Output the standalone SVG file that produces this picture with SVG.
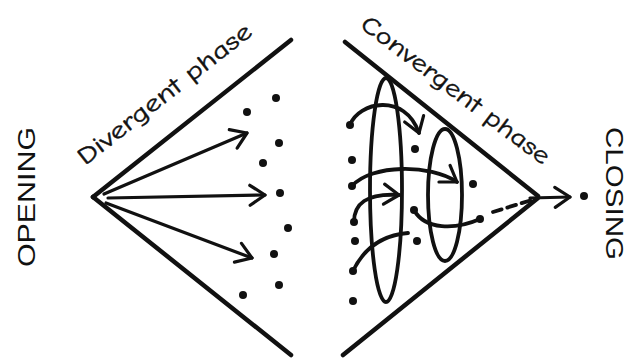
<svg xmlns="http://www.w3.org/2000/svg" width="629" height="358" viewBox="0 0 629 358">
  <defs>
    <style>
      .ln { stroke: #111; stroke-width: 4.5; stroke-linecap: round; fill: none; }
      .ar { stroke: #111; stroke-width: 3.2; stroke-linecap: round; fill: none; marker-end: url(#chev); }
      .cv { stroke: #111; stroke-width: 3.8; stroke-linecap: round; fill: none; }
      .dot { fill: #111; }
      .phase { font-family: "Comic Sans MS", "Comic Neue", "DejaVu Sans", sans-serif; font-size: 24px; fill: #111; stroke: #111; stroke-width: 0.4; }
      .side { font-family: "Liberation Sans", Arial, sans-serif; font-size: 24px; fill: #111; }
    </style>
    <marker id="chev" markerUnits="userSpaceOnUse" viewBox="-20 -14 24 28" refX="0" refY="0" markerWidth="24" markerHeight="28" orient="auto" overflow="visible">
      <path d="M-15,-10 L0,0 L-15,10" fill="none" stroke="#111" stroke-width="3.2" stroke-linecap="round" stroke-linejoin="round"/>
    </marker>
  </defs>

  <g id="opening"><text class="side" transform="translate(35,267) rotate(-90)" textLength="140" lengthAdjust="spacingAndGlyphs">OPENING</text></g>
  <g id="closing"><text class="side" transform="translate(606,127) rotate(90)" textLength="133" lengthAdjust="spacingAndGlyphs">CLOSING</text></g>

  <g id="divergent-label"><text class="phase" transform="translate(85,166) rotate(-38)" textLength="214" lengthAdjust="spacingAndGlyphs">Divergent phase</text></g>
  <g id="convergent-label"><text class="phase" transform="translate(359,27) rotate(37)" textLength="230" lengthAdjust="spacingAndGlyphs">Convergent phase</text></g>

  <g id="divergent-funnel">
    <path class="ln" d="M93,197 L291,40"/>
    <path class="ln" d="M93,197 L291,355"/>
  </g>
  <g id="convergent-funnel">
    <path class="ln" d="M345,42 L538,196"/>
    <path class="ln" d="M538,198 L343,355"/>
  </g>

  <g id="divergent-dots">
    <circle class="dot" cx="276" cy="98" r="4"/>
    <circle class="dot" cx="247" cy="112" r="4"/>
    <circle class="dot" cx="279" cy="143" r="4"/>
    <circle class="dot" cx="263" cy="163" r="4"/>
    <circle class="dot" cx="280" cy="193" r="4"/>
    <circle class="dot" cx="288" cy="228" r="4"/>
    <circle class="dot" cx="274" cy="254" r="4"/>
    <circle class="dot" cx="279" cy="285" r="4"/>
    <circle class="dot" cx="243" cy="295" r="4"/>
  </g>

  <g id="convergent-dots">
    <circle class="dot" cx="350" cy="125" r="4"/>
    <circle class="dot" cx="352" cy="160" r="4"/>
    <circle class="dot" cx="352" cy="186" r="4"/>
    <circle class="dot" cx="354" cy="222" r="4"/>
    <circle class="dot" cx="355" cy="241" r="4"/>
    <circle class="dot" cx="353" cy="271" r="4"/>
    <circle class="dot" cx="353" cy="301" r="4"/>
    <circle class="dot" cx="415" cy="149" r="4"/>
    <circle class="dot" cx="414" cy="210" r="4"/>
    <circle class="dot" cx="417" cy="241" r="4"/>
    <circle class="dot" cx="473" cy="184" r="4"/>
    <circle class="dot" cx="480" cy="219" r="4"/>
  </g>

  <g id="closing-dot"><circle class="dot" cx="584" cy="196" r="4"/></g>

  <g id="loops">
    <ellipse class="cv" cx="386" cy="190" rx="16" ry="112"/>
    <ellipse class="cv" cx="445" cy="195" rx="17" ry="66"/>
  </g>

  <g id="connectors">
    <path class="ar" d="M104,194 L247,133"/>
    <path class="ar" d="M108,198 L265,195"/>
    <path class="ar" d="M106,203 L252,258"/>
    <path class="cv" d="M350,125 C358,102 405,92 419,133" marker-end="url(#chev)"/>
    <path class="cv" d="M352,186 C372,164 430,164 457,182" marker-end="url(#chev)"/>
    <path class="cv" d="M354,222 C354,204 366,193 399,195" marker-end="url(#chev)"/>
    <path class="cv" d="M353,271 C365,246 385,235 408,233"/>
    <path class="cv" d="M414,210 C425,230 455,230 480,219"/>
    <path class="cv" d="M493,212 L535,199" stroke-dasharray="9 6"/>
    <path class="ar" d="M530,198 L570,197"/>
  </g>
</svg>
